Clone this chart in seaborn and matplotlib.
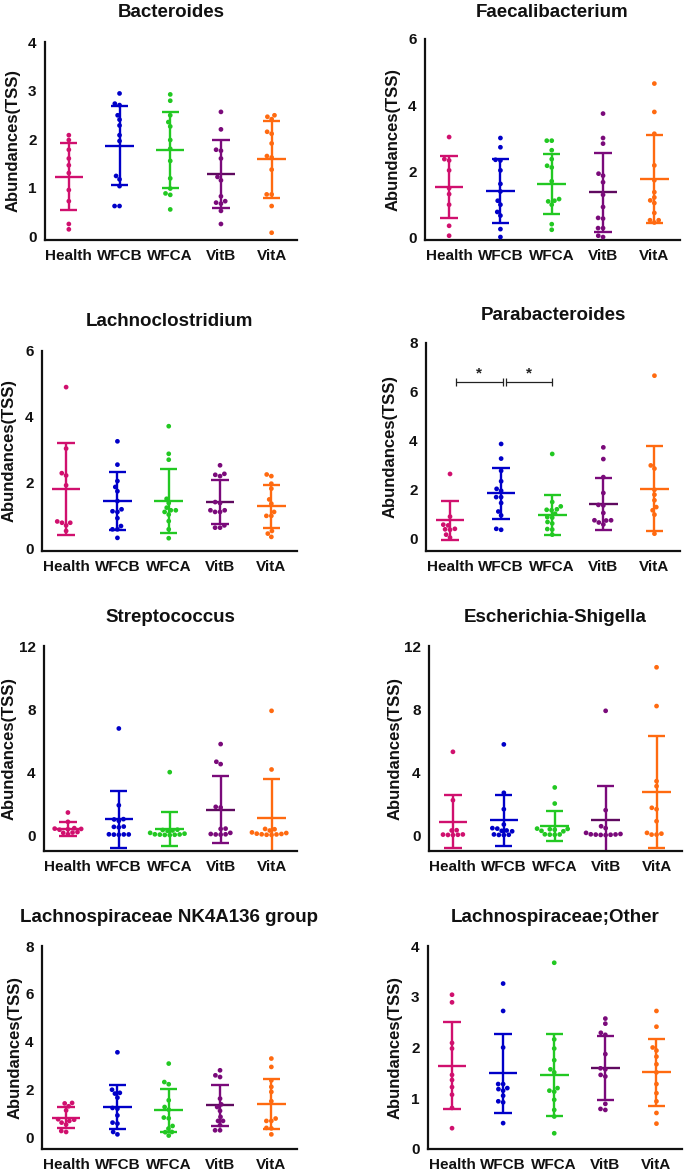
import numpy as np
import pandas as pd
import matplotlib
matplotlib.use("Agg")
import matplotlib.pyplot as plt
import seaborn as sns

sns.set_theme(style="white")
plt.rcParams["font.family"] = ["Liberation Sans", "DejaVu Sans"]
plt.rcParams["font.weight"] = "bold"

GROUPS = ["Health", "WFCB", "WFCA", "VitB", "VitA"]
COLORS = ["#D0106E", "#0000C8", "#22C822", "#7A0A7A", "#FF6A10"]
MEAN_COLORS = ["#D0106E", "#0000C8", "#22C822", "#5F0A5F", "#FF6A10"]

# ---------------- data ----------------
bacteroides_vals = [
    [2.08, 1.98, 1.78, 1.60, 1.46, 1.30, 0.95, 0.72, 0.25, 0.14],
    [2.94, 2.73, 2.70, 2.49, 2.40, 2.28, 2.08, 1.96, 1.24, 1.17, 1.03, 0.62, 0.62],
    [2.92, 2.79, 2.49, 2.35, 2.26, 1.98, 1.80, 1.55, 1.19, 0.98, 0.88, 0.85, 0.55],
    [2.56, 2.20, 1.76, 1.78, 1.60, 1.22, 1.15, 0.82, 0.72, 0.69, 0.67, 0.52, 0.25],
    [2.49, 2.46, 2.41, 2.15, 2.11, 1.91, 1.65, 1.62, 1.37, 0.86, 0.86, 0.62, 0.07],
]
bacteroides_mean = [1.22, 1.86, 1.78, 1.28, 1.58]
bacteroides_sd = [0.69, 0.815, 0.785, 0.705, 0.785]

faecali_vals = [
    [3.03, 2.36, 2.32, 2.02, 1.48, 1.30, 0.98, 0.34, 0.04],
    [3.00, 2.72, 2.32, 2.34, 2.02, 1.61, 1.38, 1.10, 0.98, 0.76, 0.65, 0.24, 0.00],
    [2.92, 2.92, 2.63, 2.36, 2.16, 2.11, 1.69, 1.10, 1.15, 1.08, 0.98, 0.39, 0.22],
    [3.74, 3.00, 2.83, 1.86, 1.92, 1.66, 1.28, 0.91, 0.56, 0.58, 0.27, 0.27, 0.04, 0.00],
    [4.65, 3.79, 3.13, 2.17, 1.72, 1.36, 1.20, 1.11, 1.03, 0.73, 0.51, 0.51, 0.44],
]
faecali_mean = [1.51, 1.40, 1.62, 1.35, 1.76]
faecali_sd = [0.93, 0.96, 0.91, 1.19, 1.32]

lachnoclo_vals = [
    [4.90, 3.03, 2.28, 2.21, 1.91, 0.77, 0.69, 0.77, 0.81, 0.52],
    [3.25, 2.54, 2.04, 1.86, 1.73, 1.43, 1.18, 1.12, 1.10, 0.91, 0.67, 0.57, 0.57, 0.31],
    [3.71, 2.87, 2.69, 1.50, 1.37, 1.23, 1.15, 1.10, 1.15, 1.02, 0.82, 0.57, 0.30],
    [2.52, 2.26, 2.23, 2.19, 1.40, 1.37, 1.15, 1.10, 1.10, 1.15, 0.62, 0.62, 0.69],
    [2.24, 2.19, 1.96, 1.81, 1.48, 1.35, 1.10, 0.98, 0.98, 0.52, 0.34, 0.44],
]
lachnoclo_mean = [1.79, 1.43, 1.43, 1.40, 1.27]
lachnoclo_sd = [1.40, 0.88, 0.985, 0.66, 0.655]

parabac_vals = [
    [2.63, 0.88, 0.55, 0.52, 0.38, 0.36, 0.34, 0.14, 0.02],
    [3.86, 3.26, 2.76, 2.33, 2.02, 1.94, 1.68, 1.68, 1.44, 1.09, 0.93, 0.38, 0.34],
    [3.45, 1.48, 1.30, 1.18, 1.16, 1.14, 1.00, 0.86, 0.84, 0.66, 0.60, 0.37, 0.35, 0.14],
    [3.72, 3.24, 2.50, 1.85, 1.36, 1.34, 1.03, 0.73, 0.73, 0.72, 0.64, 0.56],
    [6.66, 2.98, 2.85, 1.98, 1.78, 1.55, 1.27, 1.14, 0.96, 0.18],
]
parabac_mean = [0.73, 1.83, 0.94, 1.40, 2.02]
parabac_sd = [0.81, 1.045, 0.82, 1.065, 1.74]

strepto_vals = [
    [1.44, 0.85, 0.45, 0.42, 0.40, 0.38, 0.35, 0.20, 0.17, 0.15, 0.06],
    [6.77, 1.90, 1.02, 1.00, 0.91, 0.55, 0.53, 0.50, 0.06, 0.05, 0.05, 0.04, 0.03],
    [4.00, 0.35, 0.33, 0.30, 0.28, 0.15, 0.10, 0.06, 0.05, 0.04, 0.03, 0.02, 0.01],
    [5.78, 4.66, 4.51, 1.80, 1.76, 0.42, 0.40, 0.15, 0.08, 0.06, 0.05, 0.04],
    [7.89, 4.17, 0.40, 0.38, 0.30, 0.18, 0.14, 0.10, 0.08, 0.06, 0.05, 0.03, 0.02],
]
strepto_mean = [0.42, 1.02, 0.42, 1.63, 1.12]
strepto_sd = [0.44, 1.80, 1.08, 2.13, 2.44]

escher_vals = [
    [5.29, 2.22, 0.32, 0.30, 0.05, 0.04, 0.03, 0.02, 0.01],
    [5.76, 2.69, 1.65, 0.68, 0.45, 0.42, 0.30, 0.28, 0.25, 0.05, 0.03, 0.02, 0.01],
    [3.03, 2.01, 0.42, 0.40, 0.38, 0.35, 0.28, 0.25, 0.06, 0.05, 0.04, 0.03],
    [7.89, 1.59, 0.57, 0.45, 0.15, 0.08, 0.06, 0.05, 0.04, 0.03, 0.02, 0.01],
    [10.65, 8.19, 3.43, 3.11, 1.74, 1.65, 0.89, 0.15, 0.10, 0.04, 0.04],
]
escher_mean = [0.85, 0.95, 0.57, 0.95, 2.73]
escher_sd = [1.69, 1.63, 0.94, 2.18, 3.56]

nk4a136_vals = [
    [1.46, 1.44, 1.32, 1.15, 0.78, 0.76, 0.71, 0.64, 0.56, 0.29, 0.25],
    [3.57, 2.01, 1.88, 1.85, 1.68, 1.25, 1.22, 0.94, 0.64, 0.60, 0.25, 0.15],
    [3.10, 2.33, 2.24, 1.57, 1.29, 1.18, 0.85, 0.82, 0.50, 0.39, 0.25, 0.24, 0.10],
    [2.82, 2.61, 2.54, 1.64, 1.40, 1.29, 1.13, 0.88, 0.71, 0.71, 0.53, 0.32, 0.32],
    [3.31, 2.96, 2.40, 2.13, 1.92, 1.53, 0.81, 0.71, 0.71, 0.42, 0.40, 0.15],
]
nk4a136_mean = [0.85, 1.29, 1.15, 1.36, 1.43]
nk4a136_sd = [0.45, 0.915, 0.905, 0.86, 1.04]

lachother_vals = [
    [3.04, 2.89, 2.09, 1.98, 1.46, 1.36, 1.22, 1.07, 0.81, 0.41],
    [3.26, 2.72, 2.00, 1.28, 1.28, 1.20, 1.15, 1.18, 1.05, 0.94, 0.92, 0.51],
    [3.67, 2.16, 1.98, 1.75, 1.57, 1.51, 1.20, 1.13, 1.15, 0.97, 0.77, 0.64, 0.31],
    [2.57, 2.47, 2.29, 2.25, 1.87, 1.59, 1.57, 1.46, 1.43, 0.89, 0.79, 0.77],
    [2.72, 2.41, 2.00, 1.94, 1.82, 1.67, 1.51, 1.28, 1.10, 0.94, 0.71, 0.50],
]
lachother_mean = [1.64, 1.49, 1.46, 1.60, 1.51]
lachother_sd = [0.86, 0.78, 0.815, 0.625, 0.66]

TITLES = ["Bacteroides", "Faecalibacterium", "Lachnoclostridium", "Parabacteroides",
          "Streptococcus", "Escherichia-Shigella", "Lachnospiraceae NK4A136 group",
          "Lachnospiraceae;Other"]
VALS = [bacteroides_vals, faecali_vals, lachnoclo_vals, parabac_vals,
        strepto_vals, escher_vals, nk4a136_vals, lachother_vals]
MEANS = [bacteroides_mean, faecali_mean, lachnoclo_mean, parabac_mean,
         strepto_mean, escher_mean, nk4a136_mean, lachother_mean]
SDS = [bacteroides_sd, faecali_sd, lachnoclo_sd, parabac_sd,
       strepto_sd, escher_sd, nk4a136_sd, lachother_sd]
YTICKS = [[0, 1, 2, 3, 4], [0, 2, 4, 6], [0, 2, 4, 6], [0, 2, 4, 6, 8],
          [0, 4, 8, 12], [0, 4, 8, 12], [0, 2, 4, 6, 8], [0, 1, 2, 3, 4]]
YBOTTOM = [-0.08, -0.09, -0.09, -0.53, -1.0, -1.0, -0.46, 0.0]

# layout (pixels): axes left, top, right, bottom; y-label centre x; title pad (pt)
W, H = 685, 1174
RECTS = [(45, 42, 297, 240), (425, 39, 680, 240),
         (42, 351, 297, 551), (426, 343, 680, 551),
         (44, 646, 297, 851), (429, 646, 682, 851),
         (42, 946, 297, 1149), (428, 946, 682, 1149)]
YLABEL_X = [13.5, 393.5, 9.5, 390.5, 9.5, 395.5, 15, 395.5]
TITLE_PAD = [18, 16, 18, 16.5, 17.5, 17.5, 17.5, 17.5]

fig = plt.figure(figsize=(W / 100, H / 100), dpi=100)

for k in range(8):
    l, t, r, b = RECTS[k]
    ax = fig.add_axes([l / W, 1 - b / H, (r - l) / W, (b - t) / H])
    rows = []
    for g, vals in zip(GROUPS, VALS[k]):
        for v in vals:
            rows.append((g, v))
    df = pd.DataFrame(rows, columns=["group", "value"])
    sns.swarmplot(data=df, x="group", y="value", hue="group", order=GROUPS,
                  hue_order=GROUPS, palette=COLORS, size=3.4, legend=False,
                  ax=ax, zorder=3, linewidth=0)
    for i in range(5):
        m, s = MEANS[k][i], SDS[k][i]
        ax.hlines(m, i - 0.28, i + 0.28, color=MEAN_COLORS[i], lw=1.7, zorder=2)
        ax.hlines([m - s, m + s], i - 0.17, i + 0.17, color=COLORS[i], lw=1.7, zorder=2)
        ax.vlines(i, m - s, m + s, color=COLORS[i], lw=1.7, zorder=2)
    ax.set_xlim(-0.47, 4.5)
    ax.set_ylim(YBOTTOM[k], YTICKS[k][-1])
    ax.set_yticks(YTICKS[k])
    ax.set_xticks(range(5))
    ax.set_xticklabels(GROUPS)
    ax.set_xlabel("")
    ax.set_ylabel("Abundances(TSS)", fontsize=12, fontweight="bold", color="#111111")
    ax.yaxis.set_label_coords((YLABEL_X[k] + 7.5 - l) / (r - l), 0.5)
    ax.set_title(TITLES[k], fontsize=13.5, fontweight="bold", pad=TITLE_PAD[k],
                 color="#111111")
    for sp in ["top", "right"]:
        ax.spines[sp].set_visible(False)
    for sp in ["left", "bottom"]:
        ax.spines[sp].set_linewidth(1.6)
        ax.spines[sp].set_color("#111111")
    ax.tick_params(axis="both", direction="out", length=3.6, width=1.6,
                   color="#111111", labelsize=11, pad=2.5)
    ax.tick_params(axis="x", pad=3)
    for lab in ax.get_xticklabels() + ax.get_yticklabels():
        lab.set_fontweight("bold")
        lab.set_color("#111111")
    ax.set_facecolor("white")

    if k == 3:
        for (x0, x1) in [(0.12, 1.03), (1.10, 2.0)]:
            ax.plot([x0, x1], [6.4, 6.4], color="#222222", lw=0.9, clip_on=False)
            ax.vlines([x0, x1], 6.25, 6.55, color="#222222", lw=0.9)
            ax.text((x0 + x1) / 2, 6.45, "*", ha="center", va="bottom",
                    fontsize=11, color="#222222")

fig.savefig("out.png", dpi=100, facecolor="white")
